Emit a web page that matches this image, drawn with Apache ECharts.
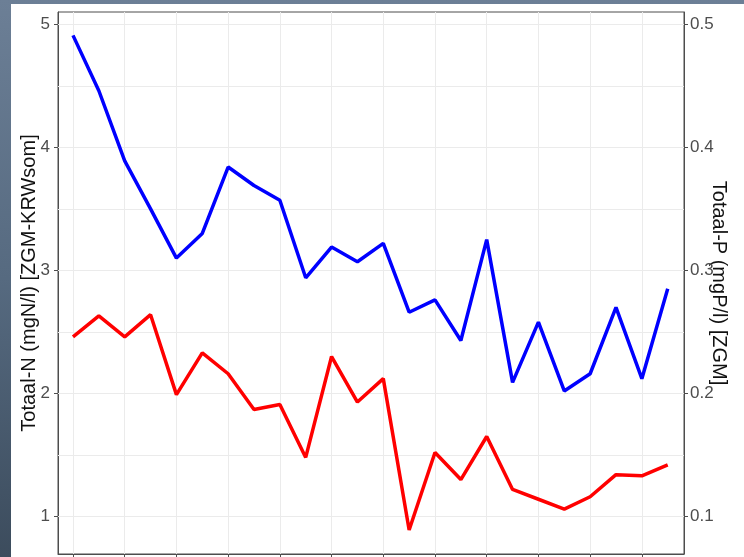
<!DOCTYPE html>
<html>
<head>
<meta charset="utf-8">
<script src="https://cdn.jsdelivr.net/npm/echarts@6/dist/echarts.min.js"></script>
<style>
  html, body { margin: 0; padding: 0; width: 744px; height: 557px; overflow: hidden; }
  body { background: linear-gradient(180deg, #6c7f96 0%, #566a80 50%, #3c4c5d 100%); position: relative; }
  #chart { position: absolute; left: 11px; top: 4px; width: 733px; height: 553px; background: #ffffff; }
</style>
</head>
<body>
<div id="chart"></div>
<script>
// Sample positions along the horizontal axis
const samplePos = [0, 1, 2, 3, 4, 5, 6, 7, 8, 9, 10, 11, 12, 13, 14, 15, 16, 17, 18, 19, 20, 21, 22, 23];

// Totaal-N (mgN/l), left axis
const totaalN = [4.91, 4.46, 3.89, 3.50, 3.10, 3.30, 3.84, 3.69, 3.57, 2.94, 3.19, 3.07,
                 3.22, 2.66, 2.76, 2.43, 3.25, 2.09, 2.58, 2.02, 2.16, 2.70, 2.12, 2.85];

// Totaal-P (mgP/l), right axis
const totaalP = [0.246, 0.263, 0.246, 0.264, 0.199, 0.233, 0.216, 0.187, 0.191, 0.148, 0.230, 0.193,
                 0.212, 0.089, 0.152, 0.130, 0.165, 0.122, 0.114, 0.106, 0.116, 0.134, 0.133, 0.142];

// Tick and grid positions
const xTicks = [0, 2, 4, 6, 8, 10, 12, 14, 16, 18, 20, 22];
const nTicks = [1, 2, 3, 4, 5];
const pTicks = [0.1, 0.2, 0.3, 0.4, 0.5];
const nGrid = [1, 1.5, 2, 2.5, 3, 3.5, 4, 4.5, 5];

const chart = echarts.init(document.getElementById('chart'), null, { renderer: 'canvas' });

const axisGray = '#4d4d4d';
const labelFont = { color: '#4d4d4d', fontSize: 17, fontFamily: 'Liberation Sans, Arial, sans-serif' };
const nameFont = { color: '#111111', fontSize: 20, fontFamily: 'Liberation Sans, Arial, sans-serif' };

const option = {
  animation: false,
  grid: {
    left: 47, right: 60, top: 8, bottom: 3,
    outerBoundsMode: 'none',
    containLabel: false,
    show: true, borderColor: '#4d4d4d', borderWidth: 1, backgroundColor: '#ffffff'
  },
  xAxis: {
    type: 'value',
    min: -0.58, max: 23.63,
    axisLine: { show: true, onZero: false, lineStyle: { color: axisGray, width: 1 } },
    axisTick: { show: true, customValues: xTicks, length: 4, lineStyle: { color: axisGray } },
    axisLabel: { show: false },
    splitLine: { show: false }
  },
  yAxis: [
    {
      type: 'value',
      position: 'left',
      min: 0.695, max: 5.10,
      name: 'Totaal-N (mgN/l) [ZGM-KRWsom]',
      nameLocation: 'middle',
      nameRotate: 90,
      nameGap: 19,
      nameMoveOverlap: false,
      nameTextStyle: nameFont,
      axisLine: { show: true, onZero: false, lineStyle: { color: axisGray, width: 1 } },
      axisTick: { show: true, customValues: nTicks, length: 4, lineStyle: { color: axisGray } },
      axisLabel: Object.assign({ customValues: nTicks, margin: 8, formatter: v => String(v) }, labelFont),
      splitLine: { show: false }
    },
    {
      type: 'value',
      position: 'right',
      min: 0.0695, max: 0.510,
      name: 'Totaal-P (mgP/l) [ZGM]',
      nameLocation: 'middle',
      nameRotate: -90,
      nameGap: 25,
      nameMoveOverlap: false,
      nameTextStyle: nameFont,
      axisLine: { show: true, onZero: false, lineStyle: { color: axisGray, width: 1 } },
      axisTick: { show: true, customValues: pTicks, length: 4, lineStyle: { color: axisGray } },
      axisLabel: Object.assign({ customValues: pTicks, margin: 6, formatter: v => v.toFixed(1) }, labelFont),
      splitLine: { show: false }
    }
  ],
  series: [
    {
      // background grid lines
      type: 'line',
      data: [],
      xAxisIndex: 0,
      yAxisIndex: 0,
      silent: true,
      z: 1,
      markLine: {
        silent: true,
        z: 1,
        symbol: 'none',
        animation: false,
        label: { show: false },
        lineStyle: { color: '#ebebeb', width: 1, type: 'solid' },
        emphasis: { disabled: true },
        data: nGrid.map(v => ({ yAxis: v })).concat(xTicks.map(v => ({ xAxis: v })))
      }
    },
    {
      name: 'Totaal-N',
      type: 'line',
      yAxisIndex: 0,
      z: 3,
      data: samplePos.map((x, i) => [x, totaalN[i]]),
      showSymbol: false,
      lineStyle: { color: '#0000ff', width: 3.5 },
      itemStyle: { color: '#0000ff' }
    },
    {
      name: 'Totaal-P',
      type: 'line',
      yAxisIndex: 1,
      z: 3,
      data: samplePos.map((x, i) => [x, totaalP[i]]),
      showSymbol: false,
      lineStyle: { color: '#ff0000', width: 3.5 },
      itemStyle: { color: '#ff0000' }
    }
  ]
};

chart.setOption(option);
</script>
</body>
</html>
